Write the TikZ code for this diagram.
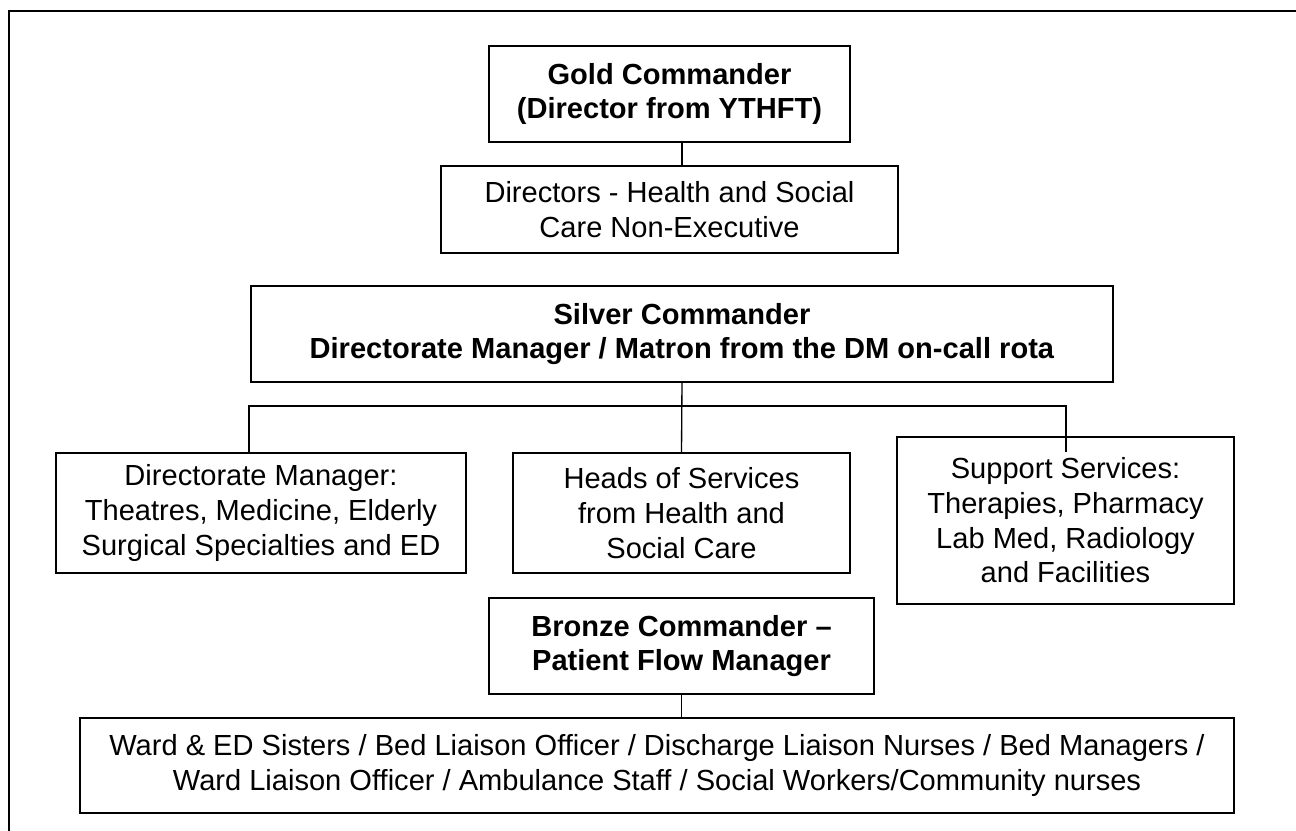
\documentclass[tikz,border=0pt]{standalone}
\usepackage{fontspec}
\setmainfont{Liberation Sans}
\usepackage{tikz}
\usetikzlibrary{calc,positioning}
\tikzset{
orgbox/.style={draw, line width=1.3pt, align=center, inner sep=0pt, font=\fontsize{21.8}{26}\selectfont}, % every box of the chart
orgsize/.style 2 args={minimum width=#1*0.75pt, minimum height=#2*0.75pt}, % box size in px
orglink/.style={line width=1pt}, % connectors
}

\begin{document}
\begin{tikzpicture}[x=0.75pt,y=0.75pt,yscale=-1,xscale=1]
\useasboundingbox (0,0) rectangle (1296,831);
%Frame
\draw [line width=1.6pt] (9,831) -- (9,11) -- (1296,11) ;
%Rect
\node [orgbox, orgsize={361}{96}] (gold) at (669.5,94) {\textbf{Gold Commander}\\\textbf{(Director from YTHFT)}};
%Rect
\node [orgbox, orgsize={457}{87}] (directors) at (669.5,209.5) {Directors - Health and Social\\Care Non-Executive};
%Rect
\node [orgbox, orgsize={862}{96}] (silver) at (682,334) {\textbf{Silver Commander}\\\textbf{Directorate Manager / Matron from the DM on-call rota}};
%Rect
\node [orgbox, orgsize={410}{120}] (dm) at (261,513) {Directorate Manager:\\Theatres, Medicine, Elderly\\Surgical Specialties and ED};
%Rect
\node [orgbox, orgsize={337}{120}] (heads) at (681.5,513) {Heads of Services\\from Health and\\Social Care};
%Rect
\node [orgbox, orgsize={337}{167}] (support) at (1065.5,520.5) {Support Services:\\Therapies, Pharmacy\\Lab Med, Radiology\\and Facilities};
%Rect
\node [orgbox, orgsize={385}{96}] (bronze) at (681.5,646) {\textbf{Bronze Commander --}\\\textbf{Patient Flow Manager}};
%Rect
\node [orgbox, orgsize={1154}{95}] (staff) at (657,765.5) {Ward \& ED Sisters / Bed Liaison Officer / Discharge Liaison Nurses / Bed Managers /\\Ward Liaison Officer / Ambulance Staff / Social Workers/Community nurses};
%Straight Lines
\coordinate (bus) at (682,406);
\coordinate (dmtap) at (249,453);
\coordinate (supporttap) at (1066,452);
\draw [orglink] (gold.south -| silver) -- (directors.north -| silver) ;
\draw [orglink] (silver.south) -- (heads.north) ;
\draw [orglink] (dmtap) |- (bus) -| (supporttap) ;
\draw [orglink] (bronze.south) -- (bronze.south |- staff.north) ;
\end{tikzpicture}
\end{document}
